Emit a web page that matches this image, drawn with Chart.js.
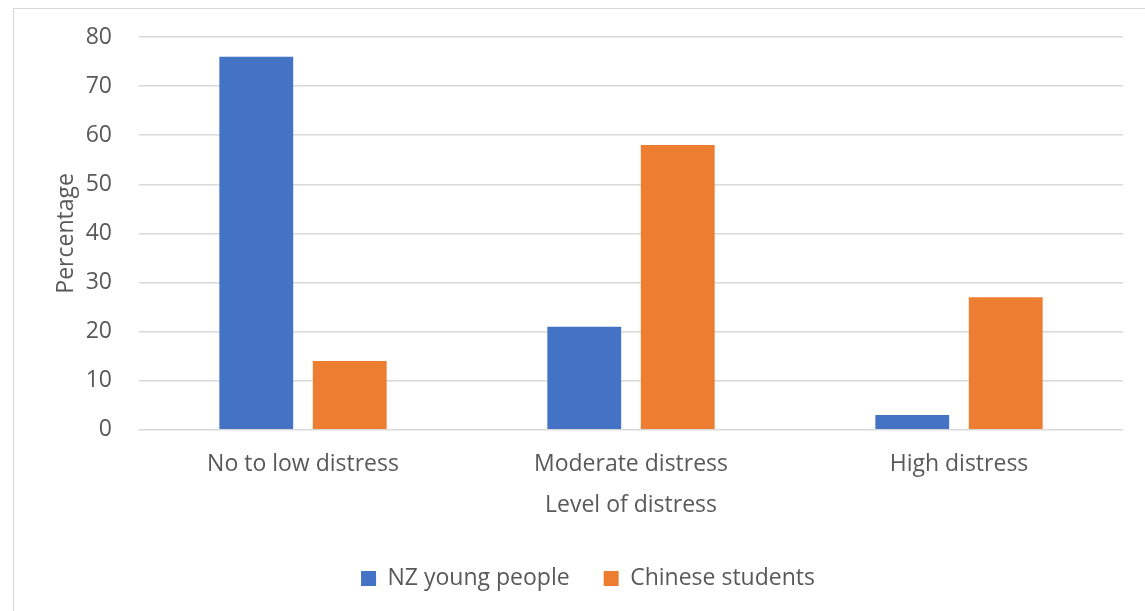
<!DOCTYPE html>
<html>
<head>
<meta charset="utf-8">
<script src="https://cdn.jsdelivr.net/npm/chart.js@4.4.0/dist/chart.umd.min.js"></script>
<style>
  html, body { margin: 0; padding: 0; background: #fff; overflow: hidden; }
  #wrap { position: relative; width: 1145px; height: 611px; }
  #frame { position: absolute; left: 13px; top: 8px; width: 1140px; height: 610px; border: 1px solid #d9d9d9; box-sizing: border-box; }
  canvas { position: absolute; left: 0; top: 0; }
</style>
</head>
<body>
<div id="wrap">
  <div id="frame"></div>
  <canvas id="chart" width="1145" height="611"></canvas>
</div>
<script>
const categories = ['No to low distress', 'Moderate distress', 'High distress'];
const nzYoungPeople = [76, 21, 3];
const chineseStudents = [14, 58, 27];
const seriesNames = ['NZ young people', 'Chinese students'];

const textColor = '#595959';
const fontFamily = "'Open Sans', 'Liberation Sans', sans-serif";
const fontSize = 23;

// nudge the legend a bit right/down, Excel centres it under the plot not the canvas
const legendShift = {
  id: 'legendShift',
  afterLayout(chart) {
    const lg = chart.legend;
    if (lg) { lg.left += 20; lg.right += 20; lg.top += 3; lg.bottom += 3; }
  }
};

new Chart(document.getElementById('chart').getContext('2d'), {
  type: 'bar',
  data: {
    labels: categories,
    datasets: [
      { label: seriesNames[0], data: nzYoungPeople, backgroundColor: '#4472c4' },
      { label: seriesNames[1], data: chineseStudents, backgroundColor: '#ed7d31' }
    ]
  },
  plugins: [legendShift],
  options: {
    responsive: false,
    animation: false,
    devicePixelRatio: 1,
    categoryPercentage: 0.57,
    barPercentage: 0.79,
    layout: { padding: { left: 13, right: 22, top: 37, bottom: 14 } },
    plugins: {
      tooltip: { enabled: false },
      legend: {
        position: 'bottom',
        labels: {
          color: textColor,
          font: { family: fontFamily, size: fontSize },
          boxWidth: 15,
          boxHeight: 15,
          padding: 34
        }
      }
    },
    scales: {
      x: {
        grid: { display: false },
        border: { display: false },
        ticks: { color: textColor, font: { family: fontFamily, size: fontSize }, padding: 13 },
        title: { display: true, text: 'Level of distress', color: textColor, font: { family: fontFamily, size: fontSize }, padding: { top: 0, bottom: 11 } }
      },
      y: {
        min: 0,
        max: 80,
        afterFit(scale) { scale.width = 126; scale.paddingTop = 0; },
        ticks: { stepSize: 10, color: textColor, font: { family: fontFamily, size: fontSize }, padding: 27 },
        grid: { color: '#d9d9d9', lineWidth: 1.5, drawTicks: false },
        border: { display: false },
        title: { display: true, text: 'Percentage', color: textColor, font: { family: fontFamily, size: fontSize }, padding: { top: 40, bottom: 0 } }
      }
    }
  }
});
</script>
</body>
</html>
